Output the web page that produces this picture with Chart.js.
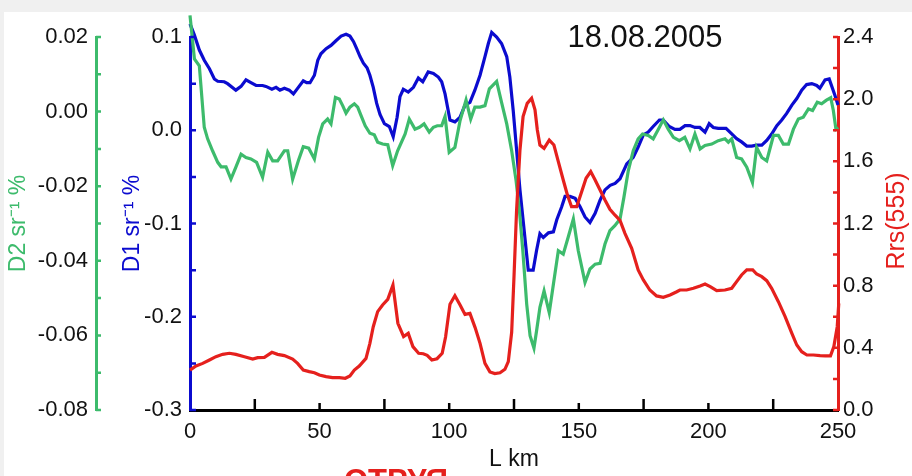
<!DOCTYPE html>
<html>
<head>
<meta charset="utf-8">
<script src="https://cdn.jsdelivr.net/npm/chart.js@4.4.0/dist/chart.umd.min.js"></script>
<style>
  html, body { margin: 0; padding: 0; background: #f0f0f0; }
  canvas { display: block; }
</style>
</head>
<body>
<canvas id="chart" width="912" height="476"></canvas>
<script>
// D1 profile (blue, left inner axis)
const d1Km = [0,1.7,3.6,5.5,7.5,9.4,10.7,13.2,14.5,17.7,
  19.7,21.6,23.5,25.5,28.0,29.3,31.6,33.2,34.7,36.4,
  38.3,39.9,41.8,43.7,45.0,46.3,48.0,49.3,50.5,52.5,
  54.4,56.3,58.3,60.2,61.7,63.1,64.3,65.6,66.9,68.3,
  69.4,70.7,72.0,73.3,75.0,76.9,78.4,79.9,81.0,82.3,
  84.2,86.2,88.1,89.8,91.9,93.9,95.8,97.1,98.4,100.3,
  102.2,104.2,106.1,108.0,109.9,111.9,113.8,115.1,116.4,118.3,
  120.2,122.2,123.4,124.7,126.0,127.3,128.9,130.5,132.4,133.7,
  135.0,136.3,138.3,140.2,141.5,143.4,144.7,146.6,148.6,150.5,
  152.4,154.3,156.3,158.2,160.1,162.1,164.0,165.9,168.5,171.0,
  172.9,174.9,176.8,178.7,181.1,182.6,184.9,187.1,189.0,191.0,
  192.9,194.8,196.7,198.7,200.3,201.9,203.8,206.8,209.0,210.9,
  212.8,214.8,216.7,218.6,220.6,222.5,224.4,226.4,228.3,230.2,
  232.2,234.1,236.0,237.9,239.9,241.8,243.0,245.0,246.6,248.8,
  250.0];
const d1Val = [0.114,0.102,0.086,0.075,0.066,0.055,0.0525,0.052,0.050,0.043,
  0.047,0.054,0.051,0.048,0.048,0.047,0.044,0.046,0.043,0.045,
  0.043,0.039,0.046,0.053,0.051,0.051,0.059,0.075,0.082,0.0875,
  0.091,0.096,0.101,0.103,0.101,0.095,0.0875,0.079,0.072,0.067,
  0.059,0.046,0.029,0.017,0.007,0.004,-0.007,0.014,0.036,0.044,
  0.041,0.046,0.056,0.052,0.0625,0.061,0.057,0.052,0.039,0.011,
  0.009,0.014,0.027,0.030,0.043,0.059,0.079,0.093,0.105,0.100,
  0.093,0.079,0.057,0.021,-0.021,-0.064,-0.107,-0.150,-0.150,-0.129,
  -0.111,-0.115,-0.110,-0.109,-0.096,-0.082,-0.071,-0.071,-0.073,-0.082,
  -0.093,-0.099,-0.089,-0.075,-0.064,-0.059,-0.057,-0.052,-0.036,-0.029,
  -0.018,-0.005,-0.002,0.004,0.011,0.011,0.004,0.001,0.001,0.005,
  0.005,0.003,0.003,-0.002,0.007,0.003,0.002,0.002,-0.004,-0.009,
  -0.0125,-0.017,-0.017,-0.016,-0.016,-0.011,-0.004,0.005,0.011,0.018,
  0.027,0.034,0.043,0.049,0.050,0.048,0.045,0.054,0.055,0.0375,
  0.027];

// D2 profile (green, left outer axis)
const d2Km = [0,1.7,3.6,5.5,6.8,8.7,10.7,12.0,13.9,15.8,
  17.7,19.7,21.6,23.5,25.7,28.0,30.0,31.9,33.8,36.4,
  37.7,39.6,41.8,43.7,45.8,48.0,49.6,51.2,53.1,54.4,
  56.1,57.6,58.9,60.2,61.7,63.4,64.7,66.0,67.6,69.4,
  71.1,72.4,74.3,76.3,78.2,80.1,83.0,84.6,86.8,88.5,
  90.3,92.3,93.9,95.4,97.1,98.4,100.0,102.2,104.2,106.5,
  108.3,109.9,111.9,113.8,115.5,118.3,120.2,122.2,124.1,125.8,
  127.1,128.4,129.9,131.2,132.7,133.7,135.0,136.6,138.6,140.2,
  142.1,144.0,145.9,147.9,149.8,152.4,154.3,156.3,158.2,160.1,
  162.0,163.9,165.9,167.4,169.1,171.0,172.9,174.6,176.8,178.7,
  180.7,182.6,184.5,186.5,188.8,190.9,192.9,194.8,196.8,198.7,
  201.3,203.8,206.4,207.7,209.0,210.9,212.8,214.8,217.0,218.6,
  220.6,222.5,225.1,227.0,228.9,230.9,232.8,234.7,236.6,238.6,
  240.2,242.0,243.7,245.4,247.2,248.2,249.2,250.0];
const d2Val = [0.0258,0.0141,0.0123,-0.0042,-0.0073,-0.0105,-0.0136,-0.0148,-0.0148,-0.0181,
  -0.0149,-0.0114,-0.0123,-0.0127,-0.0136,-0.0176,-0.0109,-0.0132,-0.0132,-0.0105,
  -0.0105,-0.0181,-0.0132,-0.0094,-0.0098,-0.0127,-0.0069,-0.0033,-0.0020,-0.0033,
  0.0038,0.0034,0.0016,-0.0004,0.0012,0.0021,0.0012,-0.0011,-0.0038,-0.0058,
  -0.0062,-0.0082,-0.0087,-0.0089,-0.0145,-0.0105,-0.0060,-0.0020,-0.0047,-0.0042,
  -0.0033,-0.0055,-0.0042,-0.0038,-0.0038,-0.0013,-0.0109,-0.0096,-0.0024,0.0031,
  -0.0020,0.0012,0.0012,0.0016,0.0061,0.0081,0.0025,-0.0033,-0.0105,-0.0185,
  -0.0266,-0.0373,-0.0516,-0.0601,-0.0634,-0.0588,-0.0525,-0.0481,-0.0539,-0.0463,
  -0.0373,-0.0382,-0.0337,-0.0288,-0.0373,-0.0458,-0.0422,-0.0409,-0.0407,-0.0355,
  -0.0319,-0.0306,-0.0288,-0.0230,-0.0158,-0.0105,-0.0073,-0.0060,-0.0064,-0.0073,
  -0.0047,-0.0022,-0.0047,-0.0069,-0.0078,-0.0069,-0.0100,-0.0060,-0.0100,-0.0091,
  -0.0087,-0.0078,-0.0073,-0.0082,-0.0073,-0.0123,-0.0127,-0.0149,-0.0190,-0.0096,
  -0.0123,-0.0132,-0.0064,-0.0064,-0.0087,-0.0087,-0.0047,-0.0020,-0.0015,0.0007,
  0.0003,0.0025,0.0021,0.0030,0.0037,0.0003,-0.0047,-0.0042];

// Rrs(555) profile (red, right axis)
const rrsKm = [0,2.3,4.9,7.5,10.0,12.6,15.2,17.7,21.0,24.2,
  26.1,28.7,31.6,33.8,36.4,39.6,41.5,43.7,46.0,48.0,
  49.9,52.5,55.0,57.6,59.9,61.7,63.4,65.3,67.9,69.4,
  70.7,72.4,74.3,76.3,78.3,80.2,82.4,84.2,86.0,88.2,
  90.0,91.5,93.3,95.3,97.3,98.6,100.3,102.2,104.2,106.1,
  108.0,110.0,111.9,113.8,115.7,117.6,119.6,121.5,122.8,124.1,
  125.0,126.0,127.3,128.5,130.1,131.8,133.1,134.0,135.0,136.6,
  138.6,140.4,142.1,144.0,145.6,147.2,149.2,151.1,152.8,154.6,
  156.3,158.2,160.1,162.0,163.9,165.9,167.8,170.4,172.9,174.9,
  177.4,180.0,182.6,185.2,187.8,189.0,191.6,194.2,196.8,198.7,
  200.7,203.2,206.4,209.0,210.9,212.8,214.8,217.1,218.6,220.6,
  222.5,224.4,227.0,229.6,232.2,234.1,236.0,238.0,240.5,243.1,
  245.1,247.1,248.4,249.7,250.3];
const rrsVal = [0.257,0.283,0.300,0.322,0.343,0.358,0.365,0.358,0.343,0.328,
  0.337,0.339,0.371,0.358,0.350,0.328,0.300,0.257,0.247,0.240,
  0.225,0.215,0.208,0.208,0.204,0.219,0.257,0.283,0.332,0.429,
  0.536,0.633,0.676,0.712,0.804,0.558,0.472,0.493,0.408,0.365,
  0.362,0.352,0.322,0.330,0.365,0.470,0.680,0.735,0.676,0.615,
  0.622,0.530,0.429,0.300,0.245,0.234,0.240,0.262,0.311,0.500,
  0.858,1.287,1.673,1.888,1.973,2.006,1.931,1.802,1.705,1.684,
  1.737,1.705,1.598,1.480,1.384,1.308,1.308,1.405,1.491,1.534,
  1.480,1.416,1.351,1.291,1.255,1.220,1.137,1.040,0.901,0.837,
  0.772,0.734,0.725,0.740,0.761,0.772,0.772,0.783,0.798,0.811,
  0.794,0.768,0.772,0.783,0.826,0.869,0.901,0.901,0.875,0.858,
  0.832,0.783,0.697,0.601,0.493,0.418,0.375,0.354,0.354,0.350,
  0.348,0.348,0.408,0.536,0.686];

// labelled ticks and all tick marks
const kmTicks = [0, 50, 100, 150, 200, 250];
const kmLongMarks = [25, 75, 125, 175, 225];
const kmShortMarks = [50, 100, 150, 200];
const d1Ticks = [-0.3, -0.2, -0.1, 0.0, 0.1];
const d1Marks = [-0.3, -0.25, -0.2, -0.15, -0.1, -0.05, 0, 0.05, 0.1];
const d2Ticks = [-0.08, -0.06, -0.04, -0.02, 0.00, 0.02];
const d2Marks = [-0.08, -0.07, -0.06, -0.05, -0.04, -0.03, -0.02, -0.01, 0, 0.01, 0.02];
const rrsTicks = [0.0, 0.4, 0.8, 1.2, 1.6, 2.0, 2.4];
const rrsMarks = [0, 0.2, 0.4, 0.6, 0.8, 1.0, 1.2, 1.4, 1.6, 1.8, 2.0, 2.2, 2.4];

const BLUE = '#0b0bcf';
const GREEN = '#3dbb6c';
const RED = '#e5201d';
const FONT = '"Liberation Sans", Arial, sans-serif';

function pairs(xs, ys) {
  return xs.map((x, i) => ({x: x, y: ys[i]}));
}
function setTicks(list) {
  return scale => { scale.ticks = list.map(v => ({value: v})); };
}

// background panel, inward tick marks, date and right axis title
const decor = {
  id: 'decor',
  beforeDraw(chart) {
    const ctx = chart.ctx;
    ctx.save();
    ctx.fillStyle = '#f0f0f0';
    ctx.fillRect(0, 0, chart.width, chart.height);
    ctx.fillStyle = '#ffffff';
    ctx.fillRect(4, 12, chart.width - 4, chart.height - 12);
    ctx.restore();
  },
  afterDraw(chart) {
    const ctx = chart.ctx;
    const s = chart.scales;
    ctx.save();
    ctx.lineWidth = 2.5;

    function vMarks(scale, values, len, dir, color) {
      const x0 = dir > 0 ? scale.right : scale.left;
      ctx.strokeStyle = color;
      ctx.beginPath();
      values.forEach(v => {
        const y = scale.getPixelForValue(v);
        ctx.moveTo(x0, y);
        ctx.lineTo(x0 + dir * len, y);
      });
      ctx.stroke();
    }
    vMarks(s.yD2, d2Marks, 5, 1, GREEN);
    vMarks(s.yD1, d1Marks, 6, 1, BLUE);
    vMarks(s.yR, rrsMarks, 5, -1, RED);

    ctx.strokeStyle = '#000';
    ctx.beginPath();
    kmLongMarks.forEach(v => {
      const x = s.x.getPixelForValue(v);
      ctx.moveTo(x, s.x.top);
      ctx.lineTo(x, s.x.top - 11);
    });
    kmShortMarks.forEach(v => {
      const x = s.x.getPixelForValue(v);
      ctx.moveTo(x, s.x.top);
      ctx.lineTo(x, s.x.top - 7);
    });
    ctx.stroke();

    ctx.fillStyle = '#111';
    ctx.font = '31px ' + FONT;
    ctx.textAlign = 'center';
    ctx.textBaseline = 'middle';
    ctx.fillText('18.08.2005', 645, 38);

    ctx.fillStyle = RED;
    ctx.font = '25px ' + FONT;
    ctx.translate(897, 221);
    ctx.rotate(-Math.PI / 2);
    ctx.fillText('Rrs(555)', 0, 0);
    ctx.restore();

    // top of the next line of the page, cut off by the frame
    ctx.save();
    ctx.fillStyle = RED;
    ctx.font = 'bold 31px ' + FONT;
    ctx.textAlign = 'left';
    ctx.textBaseline = 'top';
    ctx.fillText('ОТРУЯ', 344, 467);
    ctx.restore();
  }
};

const tickFont = {family: FONT, size: 22};
const titleFont = {family: FONT, size: 23};

new Chart(document.getElementById('chart'), {
  type: 'line',
  data: {
    datasets: [
      {label: 'Rrs(555)', data: pairs(rrsKm, rrsVal), yAxisID: 'yR', borderColor: RED, order: 0},
      {label: 'D2', data: pairs(d2Km, d2Val), yAxisID: 'yD2', borderColor: GREEN, order: 1},
      {label: 'D1', data: pairs(d1Km, d1Val), yAxisID: 'yD1', borderColor: BLUE, order: 2}
    ].map(d => Object.assign(d, {borderWidth: 3.2, pointRadius: 0, tension: 0, fill: false, clip: false}))
  },
  options: {
    responsive: false,
    animation: false,
    layout: {padding: {top: 37, right: 0, bottom: 0, left: 0}},
    plugins: {legend: {display: false}, tooltip: {enabled: false}},
    scales: {
      x: {
        type: 'linear', position: 'bottom', min: 0, max: 250,
        afterBuildTicks: setTicks(kmTicks),
        afterFit: scale => { scale.height = 66; },
        grid: {display: false, drawTicks: false},
        border: {color: '#000', width: 3},
        ticks: {font: tickFont, color: '#111', padding: 9, maxRotation: 0, autoSkip: false},
        title: {display: true, text: 'L km', font: {family: FONT, size: 23}, color: '#111', padding: {top: 0, bottom: 3}}
      },
      yD1: {
        type: 'linear', position: 'left', weight: 0, min: -0.3, max: 0.1,
        afterBuildTicks: setTicks(d1Ticks),
        afterFit: scale => { scale.width = 94; },
        grid: {display: false, drawTicks: false},
        border: {color: BLUE, width: 3},
        ticks: {font: tickFont, color: '#111', padding: 8, callback: v => (Math.abs(v) < 1e-9 ? 0 : v).toFixed(1)},
        title: {display: true, text: 'D1 sr⁻¹ %', font: titleFont, color: BLUE, padding: {top: 23, bottom: 0}}
      },
      yD2: {
        type: 'linear', position: 'left', weight: 1, min: -0.08, max: 0.02,
        afterBuildTicks: setTicks(d2Ticks),
        afterFit: scale => { scale.width = 96; },
        grid: {display: false, drawTicks: false},
        border: {color: GREEN, width: 3},
        ticks: {font: tickFont, color: '#111', padding: 8, callback: v => (Math.abs(v) < 1e-9 ? 0 : v).toFixed(2)},
        title: {display: true, text: 'D2 sr⁻¹ %', font: titleFont, color: GREEN, padding: {top: 5, bottom: 0}}
      },
      yR: {
        type: 'linear', position: 'right', min: 0, max: 2.4,
        afterBuildTicks: setTicks(rrsTicks),
        afterFit: scale => { scale.width = 74; },
        grid: {display: false, drawTicks: false},
        border: {color: RED, width: 3},
        ticks: {font: tickFont, color: '#111', padding: 5, callback: v => v.toFixed(1)}
      }
    }
  },
  plugins: [decor]
});
</script>
</body>
</html>
